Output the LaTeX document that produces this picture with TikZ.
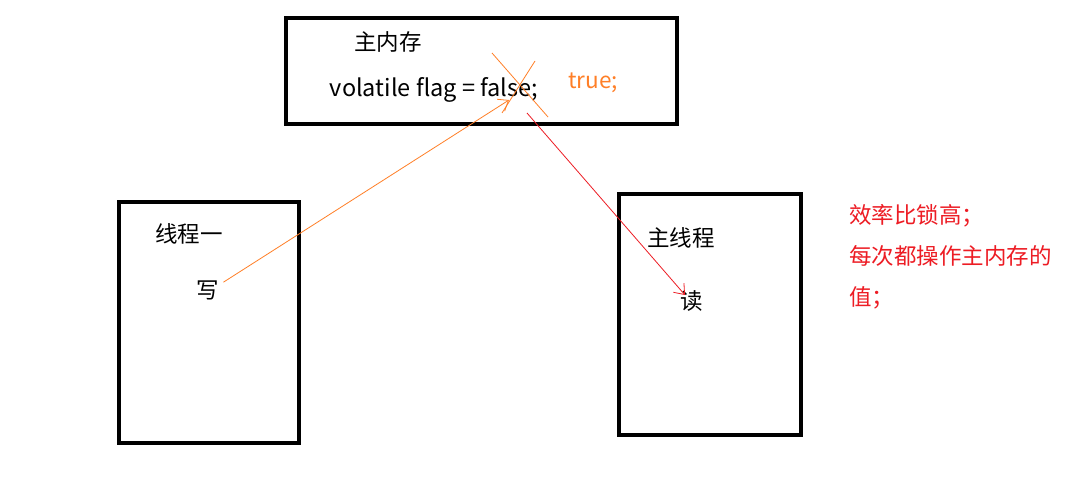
\documentclass[tikz,border=0pt]{standalone}
\usepackage{fontspec}
\setmainfont{Noto Sans CJK SC}
\usetikzlibrary{arrows.meta}
\definecolor{frame}{HTML}{000000}
\definecolor{inkorange}{HTML}{FF7F27}
\definecolor{inkred}{HTML}{ED1C24}
\tikzset{
  membox/.style={draw=frame, line width=4pt},
  lab/.style={text=black, font=\fontsize{22.5}{27}\selectfont, inner sep=0pt},
  note/.style={text=inkred, font=\fontsize{22.5}{41}\selectfont, align=left, anchor=west, inner sep=0pt},
  wline/.style={draw=inkorange, line width=0.8pt, -{Straight Barb[length=9pt,width=14pt]}},
  rline/.style={draw=inkred, line width=0.8pt, -{Straight Barb[length=9pt,width=14pt]}},
  cross/.style={draw=inkorange, line width=0.8pt}
}
\begin{document}
\begin{tikzpicture}[x=1pt,y=-1pt]
  \useasboundingbox (0,0) rectangle (1090,486);
  \fill[white] (0,0) rectangle (1090,486);

  % main memory and the two threads
  \draw[membox] (286,18) rectangle (677,124);
  \draw[membox] (119,202) rectangle (299,443);
  \draw[membox] (619,194) rectangle (801,435);

  \node[lab] (mem) at (388,42) {主内存};
  \node[lab, font=\fontsize{23.5}{28}\selectfont] (flag) at (434,90) {volatile flag = false;};
  \node[lab, text=inkorange] (newval) at (593,83) {true;};
  \node[lab] (t1) at (189,234) {线程一};
  \node[lab] (wr) at (208,290) {写};
  \node[lab] (tm) at (681,238) {主线程};
  \node[lab] (rd) at (692,301) {读};

  % remark
  \node[note] (remark) at (849,257) {效率比锁高；\\每次都操作主内存的\\值；};

  % false crossed out
  \coordinate (xa) at (492,53);
  \coordinate (xb) at (548,117);
  \coordinate (xc) at (535,61);
  \coordinate (xd) at (502,113);
  \draw[cross] (xa) -- (xb);
  \draw[cross] (xc) -- (xd);

  % write and read
  \coordinate (wtip) at (509,100);
  \coordinate (rstart) at (527,113);
  \coordinate (rtip) at (685,295);
  \draw[wline] ([xshift=4pt,yshift=-2pt]wr.north east) -- (wtip);
  \draw[rline] (rstart) -- (rtip);
\end{tikzpicture}
\end{document}
